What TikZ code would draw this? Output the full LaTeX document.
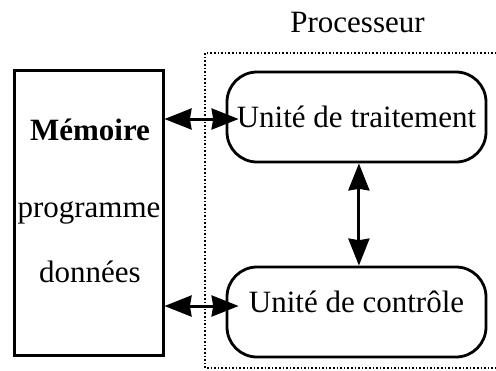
\documentclass[tikz,border=0pt]{standalone}
\usepackage{fontspec}
\setmainfont{Liberation Serif}
\usetikzlibrary{arrows.meta}
\begin{document}
\begin{tikzpicture}[x=0.5pt,y=-0.5pt,
        every node/.style={font=\fontsize{15.5}{18}\selectfont},
        unit/.style={draw, line width=1.4pt, rounded corners=15pt, inner sep=0pt,
            minimum width=129.5pt, minimum height=45pt},
        link/.style={line width=1.5pt, {Stealth[length=13.5pt,width=10.5pt,inset=0.8pt]}-{Stealth[length=13.5pt,width=10.5pt,inset=0.8pt]}}]
        \useasboundingbox (0,0) rectangle (496,370);
        % processeur (boite pointillee, coupee a droite)
        \begin{scope}
            \clip (0,0) rectangle (496,370);
            \draw[densely dotted, line width=0.8pt] (500,53) -- (205,53) -- (205,368) -- (500,368);
        \end{scope}
        \node[anchor=base] (proc) at (357.5,32) {Processeur};
        % memoire
        \node[draw, line width=1.5pt, minimum width=74.5pt, minimum height=142.5pt, inner sep=0pt] (mem) at (88.5,212.5) {};
        \node[anchor=base, font=\fontsize{15.5}{18}\selectfont\bfseries] (memtitle) at (90,140) {Mémoire};
        \node[anchor=base] (prog) at (89,217) {programme};
        \node[anchor=base] (data) at (90,282) {données};
        % unites
        \node[unit] (ut) at (356.5,117) {Unité de traitement};
        \node[unit, text height=10.5pt, text depth=10.5pt] (uc) at (356.5,312) {Unité de contrôle};
        % liaisons
        \draw[link] ([yshift=-1pt]mem.east |- ut.west) -- ([xshift=6.5pt,yshift=-1pt]ut.west);
        \draw[link] ([yshift=3pt]mem.east |- uc.west) -- ([xshift=6.5pt,yshift=3pt]uc.west);
        \draw[link] ([xshift=1.2pt]ut.south) -- ([xshift=1.2pt]uc.north);
    \end{tikzpicture}
\end{document}
